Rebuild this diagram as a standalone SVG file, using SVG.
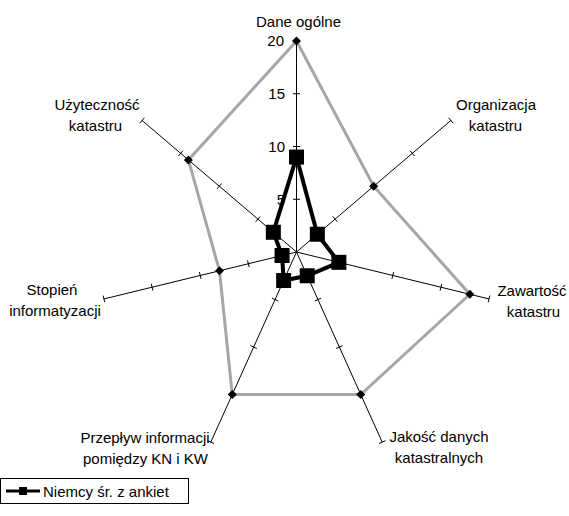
<svg xmlns="http://www.w3.org/2000/svg" width="569" height="516" viewBox="0 0 569 516">
<style>
text{font-family:"Liberation Sans",Arial,sans-serif;font-size:15px;fill:#000}
.lbl{text-anchor:middle}
.num{text-anchor:end}
.axis{stroke:#000;stroke-width:1;fill:none}
.gray{stroke:#a6a6a6;stroke-width:3;fill:none;stroke-linejoin:miter}
.black{stroke:#000;stroke-width:4;fill:none;stroke-linejoin:miter}
</style>
<defs>
<path id="dia" d="M0,-4.5L4.5,0L0,4.5L-4.5,0Z" fill="#000"/>
<rect id="sq" x="-7.5" y="-7.5" width="15" height="15" fill="#000"/>
</defs>
<rect width="569" height="516" fill="#fff"/>
<g id="connectors">
<g id="axes" class="axis">
<path d="M296.5,252L296.5,41M296.5,252L450.91,120.44M296.5,252L489.05,298.95M296.5,252L382.19,442.1M296.5,252L210.81,442.1M296.5,252L103.95,298.95M296.5,252L142.09,120.44"/>
<path d="M293,199.25H300M293,146.5H300M293,93.75H300M293,41H300"/>
<path d="M332.83,216.45L337.37,221.77M371.44,183.56L375.98,188.88M410.04,150.67L414.58,155.99M448.64,117.78L453.18,123.1"/>
<path d="M343.81,267.14L345.47,260.34M391.94,278.88L393.6,272.08M440.08,290.61L441.74,283.81M488.22,302.35L489.88,295.55"/>
<path d="M314.73,300.97L321.11,298.09M336.16,348.49L342.54,345.61M357.58,396.02L363.96,393.14M379,443.54L385.38,440.66"/>
<path d="M278.27,300.97L271.89,298.09M256.84,348.49L250.46,345.61M235.42,396.02L229.04,393.14M214,443.54L207.62,440.66"/>
<path d="M249.19,267.14L247.53,260.34M201.06,278.88L199.4,272.08M152.92,290.61L151.26,283.81M104.78,302.35L103.12,295.55"/>
<path d="M260.17,216.45L255.63,221.77M221.56,183.56L217.02,188.88M182.96,150.67L178.42,155.99M144.36,117.78L139.82,123.1"/>
</g>
<polygon id="series-gray" class="gray" points="296.5,41 373.71,186.22 469.79,294.26 360.77,394.58 232.23,394.58 219.48,270.78 188.41,159.91"/>
<polygon id="series-niemcy" class="black" points="296.5,157.05 317.35,234.24 338.86,262.33 307.21,275.76 283.65,280.52 282.06,255.52 273.34,232.27"/>
</g>
<g id="markers-gray">
<use href="#dia" x="296.5" y="41"/>
<use href="#dia" x="373.71" y="186.22"/>
<use href="#dia" x="469.79" y="294.26"/>
<use href="#dia" x="360.77" y="394.58"/>
<use href="#dia" x="232.23" y="394.58"/>
<use href="#dia" x="219.48" y="270.78"/>
<use href="#dia" x="188.41" y="159.91"/>
</g>
<g id="markers-niemcy">
<use href="#sq" x="296.5" y="157.05"/>
<use href="#sq" x="317.35" y="234.24"/>
<use href="#sq" x="338.86" y="262.33"/>
<use href="#sq" x="307.21" y="275.76"/>
<use href="#sq" x="283.65" y="280.52"/>
<use href="#sq" x="282.06" y="255.52"/>
<use href="#sq" x="273.34" y="232.27"/>
</g>
<g id="scale">
<text class="num" x="284" y="46">20</text>
<text class="num" x="285" y="98.5">15</text>
<text class="num" x="285" y="152">10</text>
<text class="num" x="285" y="204.5">5</text>
</g>
<g id="node-dane"><text class="lbl" x="298.5" y="27">Dane ogólne</text></g>
<g id="node-organizacja"><text class="lbl" x="496" y="109.5">Organizacja</text><text class="lbl" x="495.5" y="130.5">katastru</text></g>
<g id="node-zawartosc"><text class="lbl" x="532" y="296">Zawartość</text><text class="lbl" x="533.5" y="317">katastru</text></g>
<g id="node-jakosc"><text class="lbl" x="439" y="442">Jakość danych</text><text class="lbl" x="439" y="463">katastralnych</text></g>
<g id="node-przeplyw"><text class="lbl" x="145" y="443">Przepływ informacji</text><text class="lbl" x="145.5" y="464">pomiędzy KN i KW</text></g>
<g id="node-stopien"><text class="lbl" x="52" y="295">Stopień</text><text class="lbl" x="55" y="316">informatyzacji</text></g>
<g id="node-uzytecznosc"><text class="lbl" x="97" y="109.5">Użyteczność</text><text class="lbl" x="95.5" y="130.5">katastru</text></g>
<g id="legend">
<rect x="0.5" y="478.5" width="188" height="25" fill="#fff" stroke="#000" stroke-width="1"/>
<line x1="6" y1="491" x2="40" y2="491" stroke="#000" stroke-width="3"/>
<rect x="19" y="487" width="8" height="8" fill="#000"/>
<text x="43" y="496.5">Niemcy śr. z ankiet</text>
</g>
</svg>
